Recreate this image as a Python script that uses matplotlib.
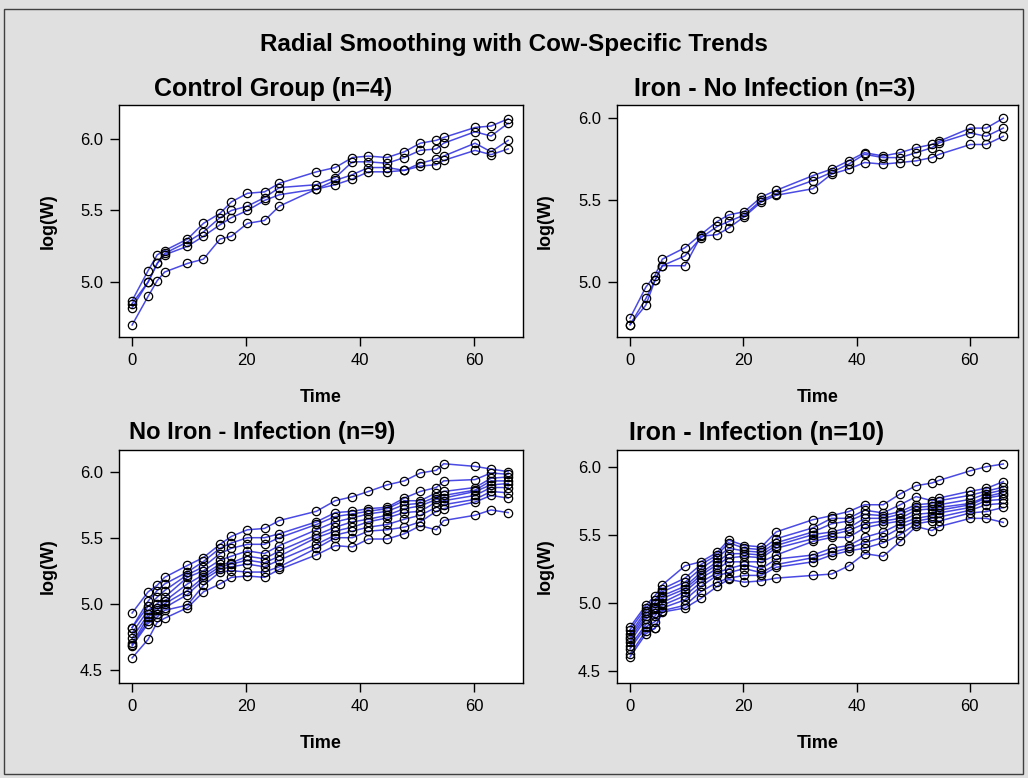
import matplotlib.pyplot as plt
from matplotlib.patches import Rectangle
import numpy as np

plt.rcParams['font.family'] = ['Liberation Sans', 'DejaVu Sans']

# time = (day - 122) / 10
time = [0, 2.8, 4.4, 5.7, 9.7, 12.5, 15.4, 17.4, 20.2, 23.2, 25.8, 32.3,
        35.6, 38.6, 41.4, 44.7, 47.7, 50.5, 53.3, 54.6, 60.1, 62.9, 65.9]

# log(W) per cow
control = [
    [4.87, 5.08, 5.19, 5.22, 5.30, 5.41, 5.48, 5.56, 5.62, 5.63, 5.69, 5.77,
     5.80, 5.87, 5.88, 5.87, 5.91, 5.97, 5.99, 6.01, 6.08, 6.09, 6.14],
    [4.85, 5.00, 5.13, 5.20, 5.28, 5.35, 5.45, 5.50, 5.53, 5.59, 5.66, 5.68,
     5.73, 5.84, 5.84, 5.83, 5.87, 5.92, 5.93, 5.97, 6.05, 6.02, 6.11],
    [4.82, 5.00, 5.13, 5.19, 5.25, 5.32, 5.40, 5.45, 5.50, 5.57, 5.61, 5.65,
     5.71, 5.75, 5.80, 5.80, 5.78, 5.83, 5.86, 5.88, 5.97, 5.91, 5.99],
    [4.70, 4.90, 5.01, 5.07, 5.13, 5.16, 5.30, 5.32, 5.41, 5.43, 5.53, 5.65,
     5.68, 5.72, 5.77, 5.77, 5.78, 5.81, 5.82, 5.85, 5.92, 5.89, 5.93],
]

iron_noinf = [
    [4.78, 4.97, 5.04, 5.14, 5.21, 5.29, 5.37, 5.41, 5.43, 5.52, 5.56, 5.65,
     5.69, 5.74, 5.79, 5.77, 5.79, 5.82, 5.84, 5.86, 5.94, 5.94, 6.00],
    [4.74, 4.90, 5.01, 5.10, 5.16, 5.27, 5.34, 5.37, 5.41, 5.50, 5.54, 5.62,
     5.67, 5.72, 5.78, 5.76, 5.76, 5.79, 5.82, 5.85, 5.91, 5.89, 5.94],
    [4.74, 4.86, 5.01, 5.10, 5.10, 5.28, 5.29, 5.33, 5.40, 5.49, 5.53, 5.57,
     5.66, 5.69, 5.73, 5.72, 5.73, 5.74, 5.76, 5.78, 5.84, 5.84, 5.89],
]

noiron_inf = [
    [4.93, 5.09, 5.14, 5.20, 5.29, 5.35, 5.45, 5.51, 5.56, 5.57, 5.63, 5.70,
     5.78, 5.81, 5.85, 5.90, 5.93, 5.99, 6.01, 6.06, 6.04, 6.02, 6.00],
    [4.82, 5.02, 5.10, 5.15, 5.24, 5.32, 5.42, 5.46, 5.50, 5.50, 5.53, 5.62,
     5.69, 5.70, 5.72, 5.73, 5.80, 5.85, 5.88, 5.93, 5.94, 5.99, 5.98],
    [4.82, 4.98, 5.05, 5.10, 5.22, 5.28, 5.38, 5.42, 5.45, 5.45, 5.50, 5.60,
     5.66, 5.68, 5.70, 5.72, 5.78, 5.78, 5.84, 5.85, 5.88, 5.95, 5.96],
    [4.78, 4.95, 5.00, 5.05, 5.20, 5.25, 5.33, 5.36, 5.40, 5.38, 5.44, 5.56,
     5.62, 5.65, 5.68, 5.70, 5.75, 5.76, 5.81, 5.82, 5.86, 5.93, 5.93],
    [4.74, 4.92, 4.97, 5.02, 5.15, 5.22, 5.30, 5.31, 5.36, 5.34, 5.40, 5.52,
     5.58, 5.62, 5.64, 5.67, 5.72, 5.74, 5.79, 5.80, 5.85, 5.90, 5.91],
    [4.70, 4.90, 4.95, 5.00, 5.10, 5.20, 5.28, 5.30, 5.33, 5.31, 5.36, 5.50,
     5.55, 5.58, 5.62, 5.65, 5.69, 5.70, 5.77, 5.78, 5.82, 5.88, 5.88],
    [4.69, 4.87, 4.92, 4.97, 5.07, 5.18, 5.26, 5.28, 5.30, 5.28, 5.33, 5.45,
     5.52, 5.55, 5.58, 5.60, 5.64, 5.67, 5.73, 5.75, 5.79, 5.85, 5.84],
    [4.68, 4.85, 4.90, 4.95, 4.99, 5.14, 5.24, 5.25, 5.24, 5.24, 5.28, 5.42,
     5.50, 5.50, 5.55, 5.56, 5.58, 5.62, 5.70, 5.72, 5.77, 5.82, 5.80],
    [4.59, 4.73, 4.86, 4.89, 4.97, 5.09, 5.15, 5.20, 5.21, 5.20, 5.26, 5.37,
     5.44, 5.43, 5.49, 5.49, 5.53, 5.59, 5.56, 5.63, 5.67, 5.71, 5.69],
]

iron_inf = [
    [4.82, 4.98, 5.05, 5.13, 5.27, 5.30, 5.37, 5.46, 5.42, 5.41, 5.52, 5.61,
     5.64, 5.67, 5.72, 5.72, 5.80, 5.86, 5.88, 5.90, 5.97, 6.00, 6.02],
    [4.80, 4.96, 5.02, 5.10, 5.18, 5.28, 5.35, 5.44, 5.40, 5.39, 5.47, 5.55,
     5.62, 5.62, 5.68, 5.66, 5.72, 5.78, 5.75, 5.77, 5.82, 5.84, 5.89],
    [4.77, 4.94, 5.00, 5.08, 5.15, 5.25, 5.33, 5.40, 5.38, 5.37, 5.44, 5.52,
     5.58, 5.60, 5.65, 5.64, 5.67, 5.72, 5.73, 5.75, 5.79, 5.82, 5.85],
    [4.75, 4.92, 4.97, 5.05, 5.12, 5.22, 5.30, 5.36, 5.36, 5.35, 5.42, 5.50,
     5.52, 5.55, 5.62, 5.62, 5.65, 5.70, 5.71, 5.72, 5.76, 5.80, 5.83],
    [4.73, 4.90, 4.95, 5.03, 5.10, 5.20, 5.28, 5.33, 5.34, 5.33, 5.40, 5.47,
     5.50, 5.53, 5.58, 5.60, 5.62, 5.68, 5.69, 5.70, 5.73, 5.78, 5.81],
    [4.71, 4.88, 4.92, 5.00, 5.08, 5.18, 5.25, 5.30, 5.30, 5.30, 5.35, 5.45,
     5.48, 5.48, 5.55, 5.58, 5.60, 5.65, 5.66, 5.68, 5.72, 5.77, 5.79],
    [4.68, 4.84, 4.90, 4.98, 5.05, 5.15, 5.22, 5.25, 5.28, 5.25, 5.32, 5.35,
     5.40, 5.42, 5.48, 5.52, 5.58, 5.62, 5.64, 5.66, 5.70, 5.75, 5.76],
    [4.66, 4.82, 4.86, 4.96, 5.02, 5.12, 5.20, 5.22, 5.25, 5.22, 5.28, 5.33,
     5.37, 5.40, 5.44, 5.48, 5.55, 5.60, 5.62, 5.63, 5.68, 5.72, 5.73],
    [4.62, 4.79, 4.81, 4.94, 4.98, 5.08, 5.15, 5.18, 5.20, 5.20, 5.26, 5.30,
     5.35, 5.38, 5.40, 5.44, 5.50, 5.58, 5.60, 5.60, 5.66, 5.67, 5.70],
    [4.60, 4.77, 4.81, 4.93, 4.96, 5.03, 5.12, 5.17, 5.15, 5.16, 5.18, 5.20,
     5.21, 5.27, 5.36, 5.34, 5.45, 5.56, 5.53, 5.56, 5.62, 5.62, 5.59],
]

titles = ["Control Group (n=4)", "Iron - No Infection (n=3)",
          "No Iron - Infection (n=9)", "Iron - Infection (n=10)"]
groups = [control, iron_noinf, noiron_inf, iron_inf]

fig = plt.figure(figsize=(10.28, 7.78), dpi=100, facecolor='#e0e0e0')
W, H = 1028, 778

# outer frame
fig.patches.append(Rectangle((4 / W, 4 / H), 1 - 9 / W, 1 - 13 / H, transform=fig.transFigure,
                             fill=False, edgecolor='#404040', linewidth=1.0))

fig.text(514 / W, 1 - 44 / H, "Radial Smoothing with Cow-Specific Trends",
         ha='center', va='center', fontsize=17.5, fontweight='bold')

# axes boxes in pixels: left, top, right, bottom
boxes = [(119, 105, 523, 337), (617, 105, 1018, 337),
         (119, 450, 523, 683), (617, 450, 1018, 683)]
ylims = [(4.616, 6.237), (4.665, 6.081), (4.40, 6.164), (4.408, 6.123)]
yticks = [[5.0, 5.5, 6.0], [5.0, 5.5, 6.0], [4.5, 5.0, 5.5, 6.0], [4.5, 5.0, 5.5, 6.0]]
title_pos = [(273, 89), (775, 89), (262, 433), (757, 433)]
ylabel_x = [48, 545, 48, 545]
xlabel_y = [397, 397, 744, 744]

for i, cows in enumerate(groups):
    l, t, r, b = boxes[i]
    ax = fig.add_axes([l / W, 1 - b / H, (r - l) / W, (b - t) / H])
    ax.set_facecolor('white')
    for cow in cows:
        ax.plot(time, cow, color='#2b2be0', linewidth=1.1, alpha=0.85, zorder=2)
        ax.plot(time, cow, linestyle='none', marker='o', markersize=6,
                markerfacecolor='none', markeredgecolor='black', markeredgewidth=0.9, zorder=3)
    ax.set_xlim(-2.3, 68.5)
    ax.set_ylim(*ylims[i])
    ax.set_xticks([0, 20, 40, 60])
    ax.set_yticks(yticks[i])
    ax.set_yticklabels([f"{v:.1f}" for v in yticks[i]])
    ax.tick_params(direction='out', length=6.5, width=1, labelsize=12, pad=5)
    for s in ax.spines.values():
        s.set_linewidth(1.0)
    fig.text(title_pos[i][0] / W, 1 - title_pos[i][1] / H, titles[i],
             ha='center', va='center', fontsize=18 if i != 2 else 17, fontweight='bold')
    fig.text(ylabel_x[i] / W, 1 - ((t + b) / 2) / H, "log(W)", rotation=90,
             ha='center', va='center', fontsize=13, fontweight='bold')
    fig.text(((l + r) / 2) / W, 1 - xlabel_y[i] / H, "Time",
             ha='center', va='center', fontsize=13, fontweight='bold')

fig.savefig("out.png", dpi=100, facecolor=fig.get_facecolor())
